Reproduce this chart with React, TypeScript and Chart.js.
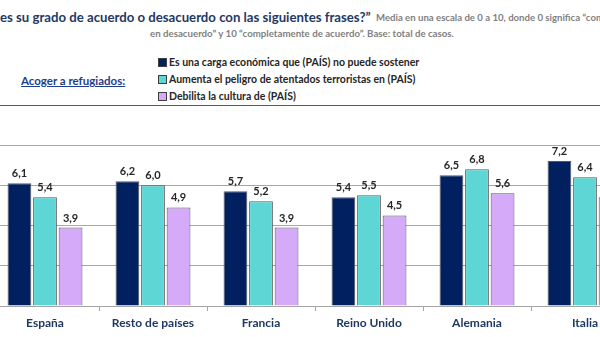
import React, { useEffect, useRef } from "react";
import { Chart, registerables } from "chart.js";

Chart.register(...registerables);

const categories = ["España", "Resto de países", "Francia", "Reino Unido", "Alemania", "Italia"];
const seriesLabels = [
  "Es una carga económica que (PAÍS) no puede sostener",
  "Aumenta el peligro de atentados terroristas en (PAÍS)",
  "Debilita la cultura de (PAÍS)",
];
const cargaEconomica = [6.1, 6.2, 5.7, 5.4, 6.5, 7.2];
const peligroAtentados = [5.4, 6.0, 5.2, 5.5, 6.8, 6.4];
const debilitaCultura = [3.9, 4.9, 3.9, 4.5, 5.6, 5.4];
const seriesColors = ["#002060", "#5FD6D6", "#D4AAF9"];
const yMin = 0;
const yMax = 8;
const yStep = 2;

const FONT = "Lato, 'Open Sans', sans-serif";

const valueLabels = {
  id: "valueLabels",
  afterDatasetsDraw(chart: any) {
    const ctx = chart.ctx;
    ctx.save();
    ctx.font = `bold 11px ${FONT}`;
    ctx.fillStyle = "#262626";
    ctx.textAlign = "center";
    ctx.textBaseline = "bottom";
    chart.data.datasets.forEach((ds: any, di: number) => {
      const meta = chart.getDatasetMeta(di);
      meta.data.forEach((bar: any, i: number) => {
        const v = ds.data[i];
        ctx.fillText(v.toFixed(1).replace(".", ","), bar.x, bar.y - 4);
      });
    });
    ctx.restore();
  },
};

export default function App() {
  const ref = useRef<HTMLCanvasElement>(null);
  useEffect(() => {
    document.body.style.margin = "0";
    const chart = new Chart(ref.current!, {
      type: "bar",
      data: {
        labels: categories,
        datasets: [cargaEconomica, peligroAtentados, debilitaCultura].map((d, i) => ({
          label: seriesLabels[i],
          data: d,
          backgroundColor: seriesColors[i],
          borderColor: "#595959",
          borderWidth: 1,
          categoryPercentage: 0.71,
          barPercentage: 0.93,
        })),
      },
      options: {
        animation: false,
        responsive: false,
        layout: { padding: { top: 10, left: 0, right: 0, bottom: 0 } },
        plugins: { legend: { display: false }, tooltip: { enabled: false } },
        scales: {
          x: {
            grid: {
              offset: true,
              drawOnChartArea: false,
              drawTicks: true,
              tickLength: 5,
              color: "#a6a6a6",
            },
            border: { display: true, color: "#a6a6a6" },
            ticks: {
              font: { family: FONT, size: 12, weight: "bold" },
              color: "#1F3864",
              padding: 5,
              maxRotation: 0,
              autoSkip: false,
            },
            afterFit: (s: any) => {
              s.height = 31;
            },
          },
          y: {
            min: yMin,
            max: yMax,
            ticks: { display: false, stepSize: yStep },
            grid: { color: "#a6a6a6", drawTicks: false },
            border: { display: false },
            afterFit: (s: any) => {
              s.width = 0;
            },
          },
        },
      },
      plugins: [valueLabels],
    });
    return () => chart.destroy();
  }, []);

  return (
    <div
      style={{
        position: "fixed",
        left: 0,
        top: 0,
        width: 600,
        height: 337,
        overflow: "hidden",
        background: "#fff",
        fontFamily: FONT,
      }}
    >
      <div
        style={{
          position: "absolute",
          left: 0,
          top: 9,
          whiteSpace: "nowrap",
          fontSize: 13.2,
          fontWeight: "bold",
          color: "#1F3864",
        }}
      >
        es su grado de acuerdo o desacuerdo con las siguientes frases?”
      </div>
      <div
        style={{
          position: "absolute",
          left: 376,
          top: 12,
          whiteSpace: "nowrap",
          fontSize: 9.6,
          fontWeight: "bold",
          color: "#7F7F7F",
        }}
      >
        Media en una escala de 0 a 10, donde 0 significa “completamente
      </div>
      <div
        style={{
          position: "absolute",
          left: 150,
          top: 27,
          whiteSpace: "nowrap",
          fontSize: 9.7,
          fontWeight: "bold",
          color: "#7F7F7F",
        }}
      >
        en desacuerdo” y 10 “completamente de acuerdo”. Base: total de casos.
      </div>
      <div
        style={{
          position: "absolute",
          left: 21,
          top: 74,
          whiteSpace: "nowrap",
          fontSize: 11.5,
          fontWeight: "bold",
          color: "#1F3E8C",
          textDecoration: "underline",
        }}
      >
        Acoger a refugiados:
      </div>
      {seriesLabels.map((l, i) => (
        <div
          key={l}
          style={{
            position: "absolute",
            left: 158,
            top: 55 + i * 17,
            height: 14,
            display: "flex",
            alignItems: "center",
            whiteSpace: "nowrap",
            fontSize: 10.5,
            fontWeight: "bold",
            color: "#262626",
          }}
        >
          <span
            style={{
              display: "inline-block",
              width: 7,
              height: 7,
              background: seriesColors[i],
              border: "1px solid #404040",
              marginRight: 2,
            }}
          />
          {l}
        </div>
      ))}
      <div
        style={{
          position: "absolute",
          left: 0,
          top: 105,
          width: 600,
          height: 0,
          borderTop: "1.5px solid #595959",
        }}
      />
      <canvas
        ref={ref}
        width={648}
        height={202}
        style={{ position: "absolute", left: -9, top: 135, width: 648, height: 202 }}
      />
    </div>
  );
}
